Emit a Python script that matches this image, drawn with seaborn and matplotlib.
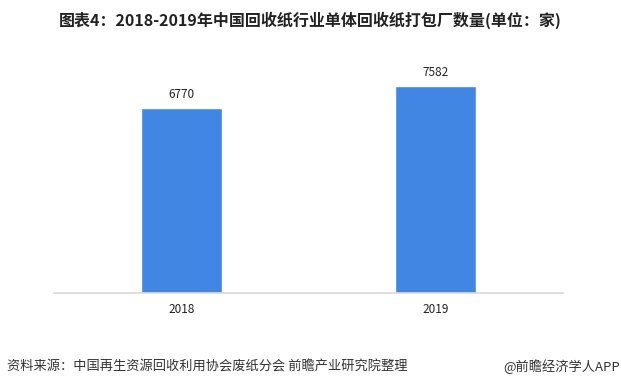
import matplotlib
matplotlib.use('Agg')
import pandas as pd
import matplotlib.pyplot as plt
import seaborn as sns

# data
years = ['2018', '2019']
plants = [6770, 7582]

title = '图表4：2018-2019年中国回收纸行业单体回收纸打包厂数量(单位：家)'
source = '资料来源：中国再生资源回收利用协会废纸分会 前瞻产业研究院整理'
brand = '@前瞻经济学人APP'

df = pd.DataFrame({'year': years, 'count': plants})

sns.set_style('white')
plt.rcParams['font.family'] = ['Noto Sans CJK SC', 'DejaVu Sans']

fig = plt.figure(figsize=(6.21, 3.88), dpi=100)
ax = fig.add_axes([0.087, 0.245, 0.82, 0.634])

sns.barplot(data=df, x='year', y='count', color='#4286E3', width=0.318,
            saturation=1, ax=ax)

for i, v in enumerate(plants):
    ax.text(i, v + 250, str(v), ha='center', va='bottom', fontsize=8.5, color='#222222')

ax.set_xlim(-0.5, 1.5)
ax.set_ylim(0, 9000)
ax.set_xlabel('')
ax.set_ylabel('')
ax.set_yticks([])
ax.tick_params(axis='x', length=0, labelsize=8.5, colors='#222222', pad=7)
for s in ['top', 'right', 'left']:
    ax.spines[s].set_visible(False)
ax.spines['bottom'].set_color('#d9d9d9')
ax.spines['bottom'].set_linewidth(1.2)

fig.text(310 / 621, 1 - 20 / 388, title, ha='center', va='center',
         fontsize=11.5, fontweight='bold', color='#222222')
fig.text(7 / 621, 1 - 367 / 388, source, ha='left', va='center',
         fontsize=9.5, color='#333333')
fig.text(620 / 621, 1 - 367 / 388, brand, ha='right', va='center',
         fontsize=9.5, color='#333333')

fig.savefig('out.png', dpi=100)
